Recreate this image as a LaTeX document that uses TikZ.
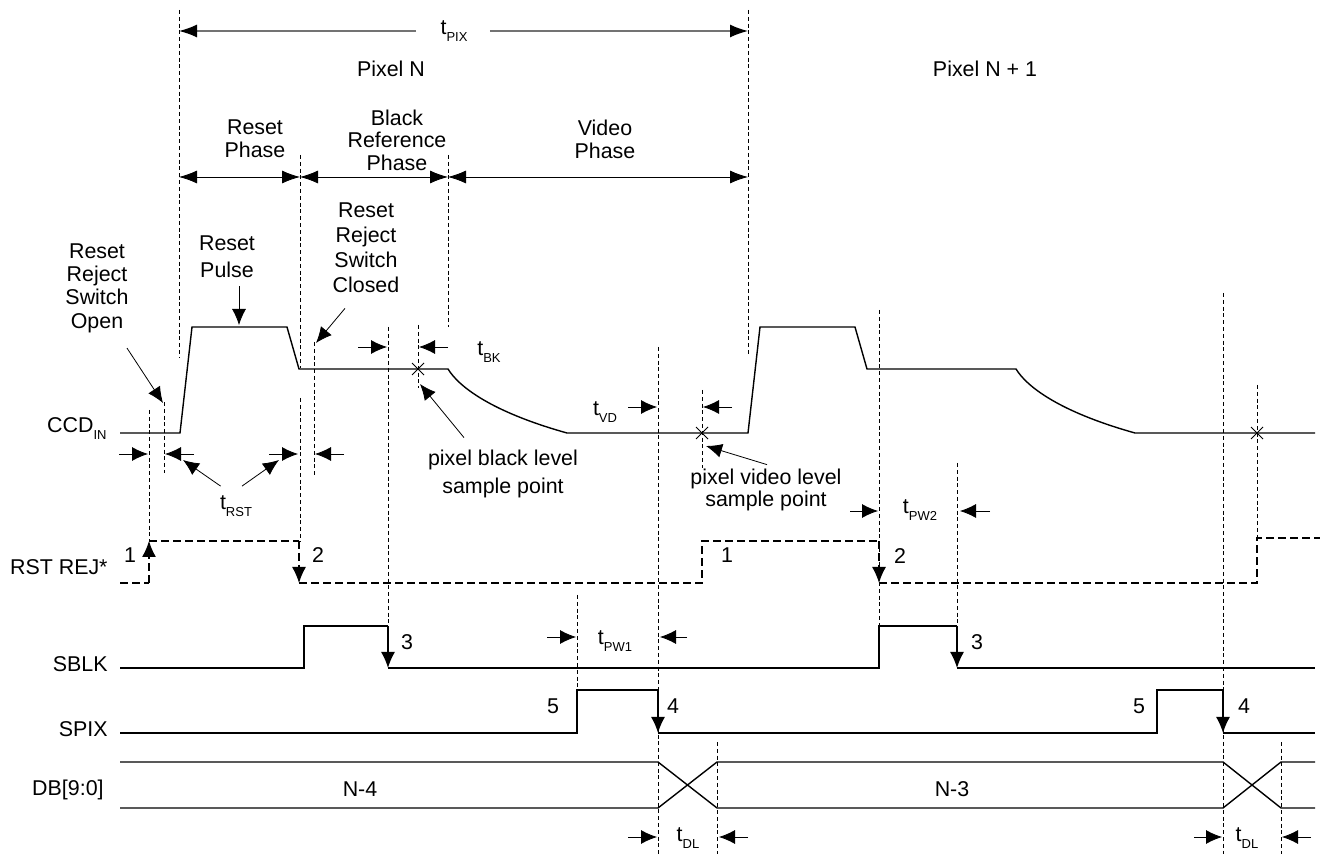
\documentclass[tikz,border=0pt]{standalone}
\usepackage{fontspec}
\setmainfont{Liberation Sans}
\usetikzlibrary{arrows.meta}

\newcommand{\lowsub}[1]{\raisebox{-3.5pt}{\fontsize{6.5}{6.5}\selectfont #1}}
\newcommand{\tsub}[1]{t\lowsub{#1}}

\begin{document}
\begin{tikzpicture}[x=0.5pt, y=-0.5pt,
    sig/.style={line width=0.7pt},
    guide/.style={line width=0.5pt, dash pattern=on 2pt off 1.4pt},
    rejline/.style={line width=0.6pt, dash pattern=on 4pt off 2pt},
    tip/.style={-{Latex[length=8pt, width=7pt]}},
    bitip/.style={{Latex[length=9pt, width=6.5pt]}-{Latex[length=9pt, width=6.5pt]}},
    lbl/.style={font=\fontsize{10.7}{11.5}\selectfont, inner sep=0pt, align=center}]

  \useasboundingbox (0,0) rectangle (1322,854);

  % time guides
  \foreach \x/\ya/\yb in {149/410/541, 164/402/473, 179/10/358, 300/155/368,
      300/398/541, 314/342/475, 388/327/626, 418/325/388, 448/155/327,
      577/595/690, 658/347/854, 702/390/468, 717/742/854, 748/10/355,
      879/310/626, 957/463/626, 1223/293/854, 1257/385/538, 1281/742/854}
    \draw[guide] (\x,\ya) -- (\x,\yb);

  % pixel period and phases
  \node[lbl] (tpix) at (454,31) {\tsub{PIX}};
  \draw[-{Latex[length=9pt, width=6.5pt, color=black]}, draw=black!55, line width=0.7pt]
    ([xshift=-12pt]tpix.west) -- (tpix.west -| 179,0);
  \draw[-{Latex[length=9pt, width=6.5pt, color=black]}, draw=black!55, line width=0.7pt]
    ([xshift=11pt]tpix.east) -- (tpix.east -| 748,0);
  \node[lbl] (pixn) at (391,69) {Pixel N};
  \node[lbl] (pixnext) at (985,69) {Pixel N + 1};

  \node[lbl] (rstphase) at (255,139) {Reset\\Phase};
  \node[lbl, font=\fontsize{10.7}{11.25}\selectfont] (blkphase) at (397,140) {Black\\Reference\\Phase};
  \node[lbl] (vidphase) at (605,139) {Video\\Phase};
  \draw[bitip] (179,177) -- (300,177);
  \draw[bitip] (300,177) -- (448,177);
  \draw[bitip] (448,177) -- (748,177);

  % notes on the CCD input
  \node[lbl, font=\fontsize{10.7}{11.7}\selectfont] (swopen) at (97,288) {Reset\\Reject\\Switch\\Open};
  \node[lbl, font=\fontsize{10.7}{13.5}\selectfont] (rstpulse) at (227,257) {Reset\\Pulse};
  \node[lbl, font=\fontsize{10.7}{12.5}\selectfont] (swclosed) at (366,248) {Reset\\Reject\\Switch\\Closed};
  \node[lbl, font=\fontsize{10.7}{14}\selectfont] (blksample) at (503,474) {pixel black level\\sample point};
  \node[lbl, font=\fontsize{10.7}{11}\selectfont] (vidsample) at (766,490) {pixel video level\\sample point};

  \coordinate (openpt) at (163,403);
  \coordinate (pulsept) at (239,325);
  \coordinate (closedpt) at (316,343);
  \coordinate (blkpt) at (420,384);
  \coordinate (vidpt) at (706,446);

  \draw[tip] (swopen.south) ++(30,15) -- (openpt);
  \draw[tip, shorten <=4pt] (rstpulse.south -| pulsept) -- (pulsept);
  \draw[tip] (swclosed.south) ++(-21,15) -- (closedpt);
  \draw[tip] (blksample.north) ++(-39,-12) -- (blkpt);
  \draw[tip] (vidsample.north) ++(1,-4) -- (vidpt);

  % timing labels
  \node[lbl] (trst) at (236,506) {\tsub{RST}};
  \node[lbl] (tbk) at (489,352) {\tsub{BK}};
  \node[lbl] (tvd) at (605,412) {\tsub{VD}};
  \node[lbl] (tpwtwo) at (920,510) {\tsub{PW2}};
  \node[lbl] (tpwone) at (615,641) {\tsub{PW1}};
  \node[lbl] (tdlone) at (688,838) {\tsub{DL}};
  \node[lbl] (tdltwo) at (1247,838) {\tsub{DL}};

  \coordinate (rstleft) at (183,460);
  \coordinate (rstright) at (279,460);
  \draw[tip] (trst.north west) ++(1,-9) -- (rstleft);
  \draw[tip] (trst.north) ++(6,-9) -- (rstright);

  \foreach \xa/\xb/\y in {119/148/454, 194/165/454, 269/298/454, 344/315/454,
      358/387/347, 448/419/347, 628/657/407, 732/703/407,
      850/878/511, 990/960/511, 547/576/637, 687/660/637,
      628/657/837, 748/719/837, 1194/1222/837, 1311/1282/837}
    \draw[tip] (\xa,\y) -- (\xb,\y);

  % signal names
  \node[lbl, anchor=base east] (ccd) at (107,433) {CCD\lowsub{IN}};
  \node[lbl, anchor=base east] (rstrej) at (108,575) {RST REJ*};
  \node[lbl, anchor=base east] (sblk) at (108,672) {SBLK};
  \node[lbl, anchor=base east] (spix) at (108,737) {SPIX};
  \node[lbl, anchor=base east] (dbus) at (104,795) {DB[9:0]};

  % CCD input
  \draw[sig] (120,433) -- (180,433) -- (192,327) -- (287,327) -- (299,369) -- (448,369)
    .. controls (459,387) and (492,412) .. (567,433) -- (748,433) -- (760,327)
    -- (855,327) -- (867,369) -- (1016,369)
    .. controls (1027,387) and (1060,412) .. (1135,433) -- (1315,433);
  \foreach \x/\y in {418/369, 702/433, 1257/433}
    \draw[line width=0.5pt] (\x-6,\y-6) -- (\x+6,\y+6) (\x-6,\y+6) -- (\x+6,\y-6);

  % RST REJ*
  \draw[rejline] (120,583) -- (149,583);
  \draw[rejline, tip] (149,583) -- (149,541);
  \draw[rejline] (149,541) -- (299,541);
  \draw[rejline, tip] (299,541) -- (299,583);
  \draw[rejline] (299,583) -- (702,583) -- (702,541) -- (879,541);
  \draw[rejline, tip] (879,541) -- (879,583);
  \draw[rejline] (879,583) -- (1257,583) -- (1257,538) -- (1320,538);

  % SBLK
  \draw[sig] (120,668) -- (304,668) -- (304,626) -- (388,626);
  \draw[sig, tip] (388,626) -- (388,668);
  \draw[sig] (388,668) -- (879,668) -- (879,626) -- (957,626);
  \draw[sig, tip] (957,626) -- (957,668);
  \draw[sig] (957,668) -- (1315,668);

  % SPIX
  \draw[sig] (120,733) -- (577,733) -- (577,690) -- (658,690);
  \draw[sig, tip] (658,690) -- (658,733);
  \draw[sig] (658,733) -- (1157,733) -- (1157,690) -- (1223,690);
  \draw[sig, tip] (1223,690) -- (1223,733);
  \draw[sig] (1223,733) -- (1315,733);

  % data bus
  \draw[sig] (120,762) -- (658,762) -- (717,808) -- (1223,808) -- (1281,762) -- (1315,762);
  \draw[sig] (120,808) -- (658,808) -- (717,762) -- (1223,762) -- (1281,808) -- (1315,808);
  \node[lbl] (wordold) at (360,789) {N-4};
  \node[lbl] (wordnew) at (952,789) {N-3};

  % edge numbers
  \foreach \x/\y/\n in {130/555/1, 318/555/2, 727/555/1, 900/556/2,
      407/642/3, 977/642/3, 553/706/5, 673/706/4, 1139/706/5, 1244/706/4}
    \node[lbl] (edge\n at \x) at (\x,\y) {\n};
\end{tikzpicture}
\end{document}
